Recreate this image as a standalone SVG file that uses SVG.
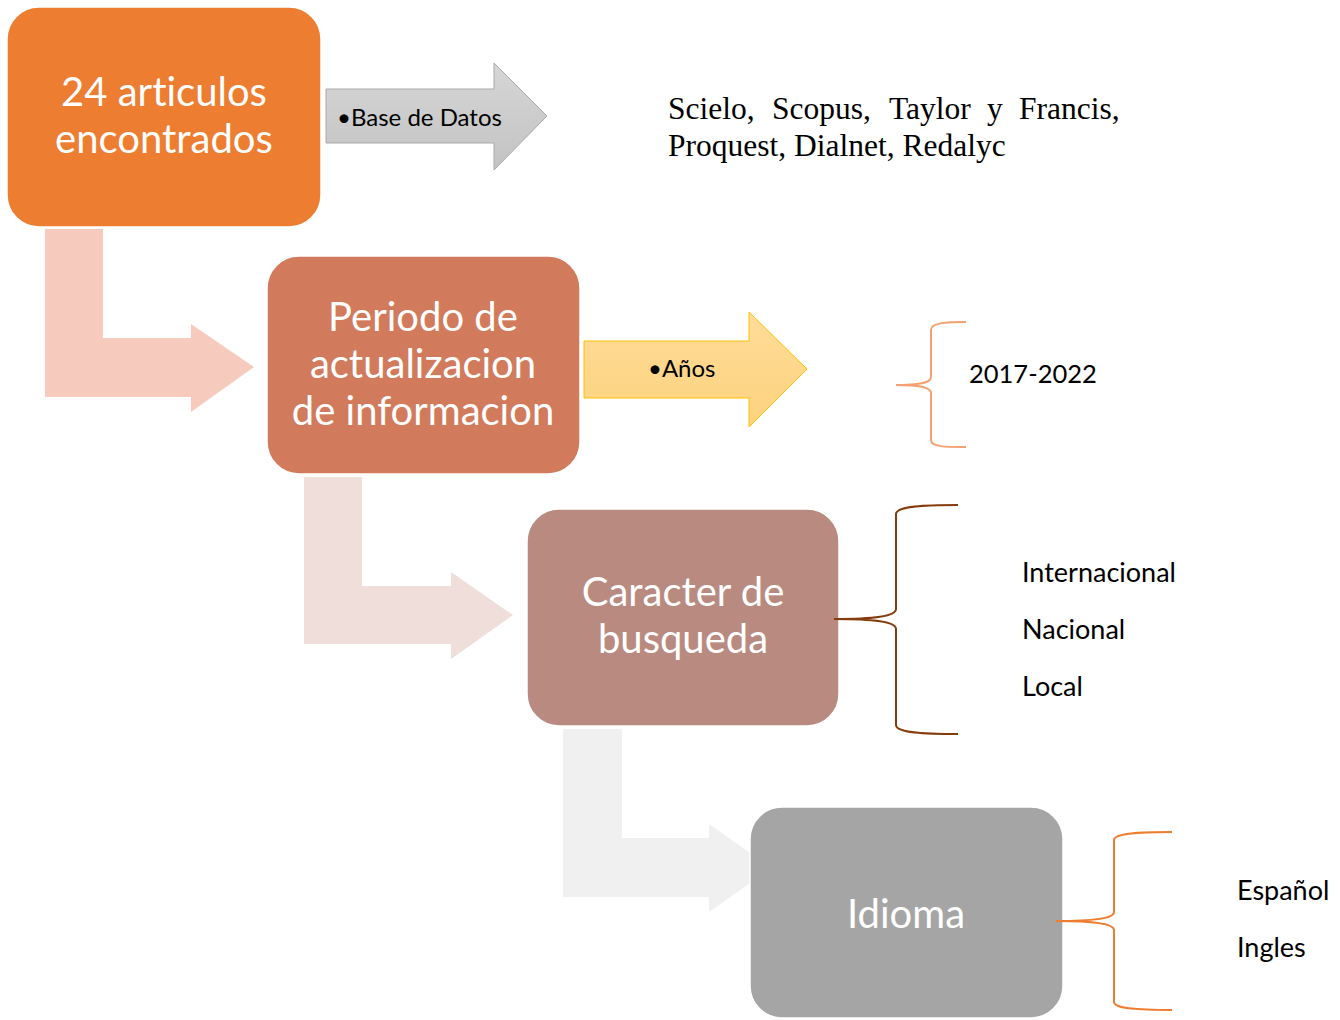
<svg xmlns="http://www.w3.org/2000/svg" width="1340" height="1020" viewBox="0 0 1340 1020">
<defs>
<linearGradient id="gGray" x1="0" y1="0" x2="0" y2="1">
<stop offset="0" stop-color="#d6d6d6"/><stop offset="1" stop-color="#c3c3c3"/>
</linearGradient>
<linearGradient id="gGold" x1="0" y1="0" x2="0" y2="1">
<stop offset="0" stop-color="#ffdc98"/><stop offset="1" stop-color="#fdd27e"/>
</linearGradient>
<style>
text{font-variant-ligatures:none;font-feature-settings:"liga" 0}
.node-t{font-family:Lato,"Liberation Sans",sans-serif;fill:#ffffff;text-anchor:middle;font-size:40px}
.lbl{font-family:Lato,"Liberation Sans",sans-serif;fill:#000000;font-size:27px}
.small{font-family:Lato,"Liberation Sans",sans-serif;fill:#000000;font-size:24px}
.serif{font-family:"Liberation Serif","Times New Roman",serif;fill:#000000;font-size:31.5px}
.box{stroke:#ffffff;stroke-width:1.5}
.brace{fill:none;stroke-width:2}
</style>
</defs>
<rect width="1340" height="1020" fill="#ffffff"/>
<g id="connectors">
<path id="bent1" d="M45,229 H103 V338 H191 V324 L254,367 L191,412 V397 H45 Z" fill="#f6cbbe"/>
<path id="bent2" d="M304,477 H362 V586 H451 V572 L513,615 L451,659 V644 H304 Z" fill="#f0dedb"/>
<path id="bent3" d="M563,729 H622 V838 H709 V824 L772,868 L709,912 V897 H563 Z" fill="#f0f0f0"/>
<path id="arrowBase" d="M326,89 H494 V63 L547,116 L494,170 V143 H326 Z" fill="url(#gGray)" stroke="#a9a9a9" stroke-width="1"/>
<path id="arrowAnos" d="M584,341 H749 V312 L807,369 L749,427 V398 H584 Z" fill="url(#gGold)" stroke="#ffc000" stroke-width="1"/>
</g>
<g id="node1">
<rect class="box" x="7" y="7" width="314" height="220" rx="32" fill="#ed7d31"/>
<text class="node-t" x="164" y="106">24 articulos</text>
<text class="node-t" x="164" y="153">encontrados</text>
</g>
<g id="node2">
<rect class="box" x="267" y="256" width="313" height="218" rx="32" fill="#d17b5c"/>
<text class="node-t" x="423" y="331">Periodo de</text>
<text class="node-t" x="423" y="378">actualizacion</text>
<text class="node-t" x="423" y="425">de informacion</text>
</g>
<g id="node3">
<rect class="box" x="527" y="509" width="312" height="217" rx="32" fill="#b98a80"/>
<text class="node-t" x="683" y="606">Caracter de</text>
<text class="node-t" x="683" y="653">busqueda</text>
</g>
<g id="node4">
<rect class="box" x="750" y="807" width="313" height="211" rx="32" fill="#a5a5a5"/>
<text class="node-t" x="906" y="928">Idioma</text>
</g>
<g id="braces">
<path id="brace1" class="brace" stroke="#f4a070" d="M966,322 C945,322 931,323 931,330 L931,377 C931,384 915,385 896,385 C915,385 931,386 931,393 L931,440 C931,447 945,447 966,447"/>
<path id="brace2" class="brace" stroke="#843c0c" d="M958,505 C925,505 896,506 896,514 L896,609 C896,617 870,619 834,619 C870,619 896,621 896,629 L896,725 C896,733 925,734 958,734"/>
<path id="brace3" class="brace" stroke="#ed7d31" d="M1172,832 C1140,832 1114,833 1114,840 L1114,912 C1114,919 1090,921 1056,921 C1090,921 1114,923 1114,930 L1114,1002 C1114,1009 1140,1010 1172,1010"/>
</g>
<g id="labels">
<text class="small" x="337" y="126">•Base de Datos</text>
<text class="small" x="648" y="377">•Años</text>
<text class="serif" y="119"><tspan x="668">Scielo,</tspan><tspan x="772">Scopus,</tspan><tspan x="889">Taylor</tspan><tspan x="987">y</tspan><tspan x="1019">Francis,</tspan></text>
<text class="serif" x="668" y="156">Proquest, Dialnet, Redalyc</text>
<text class="lbl" x="969" y="383" style="font-size:25.5px">2017-2022</text>
<text class="lbl" x="1022" y="582">Internacional</text>
<text class="lbl" x="1022" y="639">Nacional</text>
<text class="lbl" x="1022" y="696">Local</text>
<text class="lbl" x="1237" y="900">Español</text>
<text class="lbl" x="1237" y="957">Ingles</text>
</g>
</svg>
